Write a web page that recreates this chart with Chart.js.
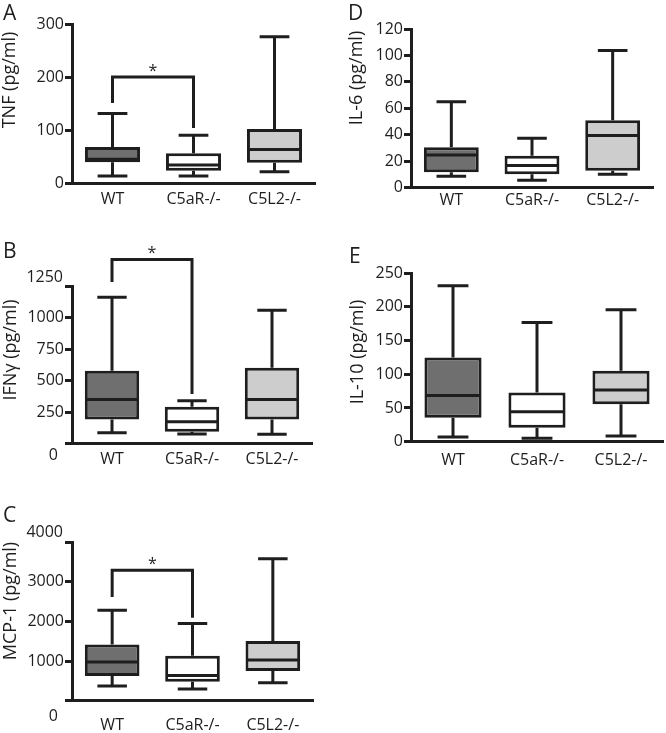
<!DOCTYPE html>
<html>
<head>
<meta charset="utf-8">
<script src="https://cdn.jsdelivr.net/npm/chart.js@4.4.0/dist/chart.umd.min.js"></script>
<style>
  body { margin: 0; background: #fff; }
  .panel { position: absolute; }
</style>
</head>
<body>
<div class="panel" style="left:0;top:0;width:333px;height:240px"><canvas id="chart-a"></canvas></div>
<div class="panel" style="left:0;top:240px;width:333px;height:250px"><canvas id="chart-b"></canvas></div>
<div class="panel" style="left:0;top:490px;width:333px;height:243px"><canvas id="chart-c"></canvas></div>
<div class="panel" style="left:333px;top:0;width:333px;height:240px"><canvas id="chart-d"></canvas></div>
<div class="panel" style="left:333px;top:240px;width:333px;height:250px"><canvas id="chart-e"></canvas></div>
<script>
// groups on the x axis
const categories = ['WT', 'C5aR-/-', 'C5L2-/-'];

// five-number summaries per group: [min, Q1, median, Q3, max]
const tnfWT = [13, 39, 45, 68, 131];
const tnfC5aR = [13, 23, 34, 56, 90];
const tnfC5L2 = [21, 38, 63, 102, 276];

const ifngWT = [86, 191, 350, 577, 1160];
const ifngC5aR = [75, 94, 173, 292, 339];
const ifngC5L2 = [73, 191, 350, 601, 1057];

const mcpWT = [370, 621, 973, 1418, 2282];
const mcpC5aR = [294, 479, 638, 1133, 1946];
const mcpC5L2 = [453, 747, 1024, 1502, 3580];

const il6WT = [8.6, 11.6, 24.7, 30.5, 65];
const il6C5aR = [5.6, 10.1, 16.7, 24.2, 37.4];
const il6C5L2 = [10.1, 12.9, 39.4, 51, 103.8];

const il10WT = [7, 35.6, 68.3, 124.7, 231];
const il10C5aR = [5, 20.8, 44.5, 72.8, 176.7];
const il10C5L2 = [8.5, 55.5, 76.8, 105, 195.5];

// significance brackets WT vs C5aR-/-: [left leg end, bracket top, right leg end]
const tnfBracket = [151, 200, 104];
const ifngBracket = [1282, 1461, 392];
const mcpBracket = [2616, 3288, 2088];

// y axis ticks: [max, step]
const tnfTicks = [300, 100];
const ifngTicks = [1250, 250];
const mcpTicks = [4000, 1000];
const il6Ticks = [120, 20];
const il10Ticks = [250, 50];

const INK = '#1e1e1e';
const FILLS = ['#6f6f6f', '#ffffff', '#cdcdcd'];
const FONT = "'Open Sans', sans-serif";
const LW = 3;

Chart.defaults.font.family = FONT;
Chart.defaults.font.size = 16;
Chart.defaults.color = INK;

// whiskers, medians, bracket and loose text
const boxPlugin = {
  id: 'boxWhisker',
  afterDatasetsDraw(chart, args, opts) {
    const ctx = chart.ctx;
    const y = chart.scales.y;
    const bars = chart.getDatasetMeta(0).data;
    ctx.save();
    ctx.strokeStyle = INK;
    ctx.lineWidth = LW;
    ctx.lineCap = 'butt';
    opts.stats.forEach((s, i) => {
      const bar = bars[i];
      const x = bar.x, half = bar.width / 2, cap = bar.width * 0.27;
      const [lo, q1, med, q3, hi] = s.map(v => y.getPixelForValue(v));
      ctx.beginPath();
      ctx.moveTo(x, q3); ctx.lineTo(x, hi);
      ctx.moveTo(x - cap, hi); ctx.lineTo(x + cap, hi);
      ctx.moveTo(x, q1); ctx.lineTo(x, lo);
      ctx.moveTo(x - cap, lo); ctx.lineTo(x + cap, lo);
      ctx.moveTo(x - half + 1, med); ctx.lineTo(x + half - 1, med);
      ctx.stroke();
    });

    if (opts.bracket) {
      const [l, t, r] = opts.bracket.map(v => y.getPixelForValue(v));
      const x1 = bars[0].x, x2 = bars[1].x;
      ctx.lineJoin = 'miter';
      ctx.beginPath();
      ctx.moveTo(x1, l); ctx.lineTo(x1, t); ctx.lineTo(x2, t); ctx.lineTo(x2, r);
      ctx.stroke();
      ctx.fillStyle = INK;
      ctx.font = `16px ${FONT}`;
      ctx.textAlign = 'center';
      ctx.textBaseline = 'alphabetic';
      ctx.fillText('*', (x1 + x2) / 2, t - 1);
    }

    ctx.fillStyle = INK;
    if (opts.edgeLabels) {
      // end labels of this axis sit off their tick marks
      const [top, bottom] = opts.edgeLabels;
      ctx.font = `16px ${FONT}`;
      ctx.textAlign = 'right';
      ctx.textBaseline = 'middle';
      ctx.fillText(String(y.max), y.right - 9, y.getPixelForValue(y.max) + top);
      ctx.fillText('0', y.right - 14, y.getPixelForValue(0) + bottom);
    }

    // panel letter
    ctx.font = `21px ${FONT}`;
    ctx.textAlign = 'left';
    ctx.textBaseline = 'alphabetic';
    ctx.fillText(opts.letter[0], opts.letter[1], opts.letter[2]);

    // rotated axis title
    ctx.translate(opts.title[1], opts.title[2]);
    ctx.rotate(-Math.PI / 2);
    ctx.font = `18px ${FONT}`;
    ctx.textAlign = 'center';
    ctx.fillText(opts.title[0], 0, 0);
    ctx.restore();
  }
};

function makePanel(id, p) {
  const canvas = document.getElementById(id);
  const h = canvas.parentNode.clientHeight;
  return new Chart(canvas, {
    type: 'bar',
    data: {
      labels: categories,
      datasets: [{
        data: p.stats.map(s => [s[1], s[3]]),
        backgroundColor: FILLS,
        borderColor: INK,
        borderWidth: LW,
        borderSkipped: false,
        barPercentage: 0.68,
        categoryPercentage: 1,
      }],
    },
    options: {
      responsive: true,
      maintainAspectRatio: false,
      animation: false,
      layout: { padding: { top: p.area[1], right: p.area[2], left: 0, bottom: 0 } },
      plugins: {
        legend: { display: false },
        tooltip: { enabled: false },
        boxWhisker: {
          stats: p.stats,
          bracket: p.bracket,
          edgeLabels: p.edgeLabels,
          letter: p.letter,
          title: p.title,
        },
      },
      scales: {
        x: {
          grid: { display: false, drawTicks: false },
          border: { color: INK, width: LW },
          ticks: { padding: p.labelPad, color: INK },
          afterFit: s => { s.height = h - p.area[3]; },
        },
        y: {
          min: 0,
          max: p.ticks[0],
          grid: { drawOnChartArea: false, drawTicks: true, tickLength: 7, color: INK, lineWidth: LW },
          border: { color: INK, width: LW },
          ticks: {
            stepSize: p.ticks[1],
            padding: 1,
            color: INK,
            callback: v => (p.edgeLabels && (v === 0 || v === p.ticks[0]) ? '' : v),
          },
          afterFit: s => { s.width = p.area[0]; },
        },
      },
    },
    plugins: [boxPlugin],
  });
}

// area: [axis x, top of plot, right padding, x-axis y] in panel pixels
makePanel('chart-a', {
  stats: [tnfWT, tnfC5aR, tnfC5L2], ticks: tnfTicks, bracket: tnfBracket, labelPad: 7,
  area: [72, 24, 18, 183], letter: ['A', 3, 20], title: ['TNF (pg/ml)', 15, 80],
});
makePanel('chart-b', {
  stats: [ifngWT, ifngC5aR, ifngC5L2], ticks: ifngTicks, bracket: ifngBracket, labelPad: 6,
  edgeLabels: [-9, 12],
  area: [72, 46, 21, 203.5], letter: ['B', 3, 18], title: ['IFNγ (pg/ml)', 16, 110],
});
makePanel('chart-c', {
  stats: [mcpWT, mcpC5aR, mcpC5L2], ticks: mcpTicks, bracket: mcpBracket, labelPad: 15,
  edgeLabels: [-10, 16],
  area: [72, 52, 20, 210.7], letter: ['C', 3, 32], title: ['MCP-1 (pg/ml)', 16, 111],
});
makePanel('chart-d', {
  stats: [il6WT, il6C5aR, il6C5L2], ticks: il6Ticks, labelPad: 3,
  area: [78, 29, 13, 187.7], letter: ['D', 15, 20], title: ['IL-6 (pg/ml)', 29, 78],
});
makePanel('chart-e', {
  stats: [il10WT, il10C5aR, il10C5L2], ticks: il10Ticks, labelPad: 9,
  area: [78, 33, 3, 201.7], letter: ['E', 16, 23], title: ['IL-10 (pg/ml)', 30, 112],
});
</script>
</body>
</html>
